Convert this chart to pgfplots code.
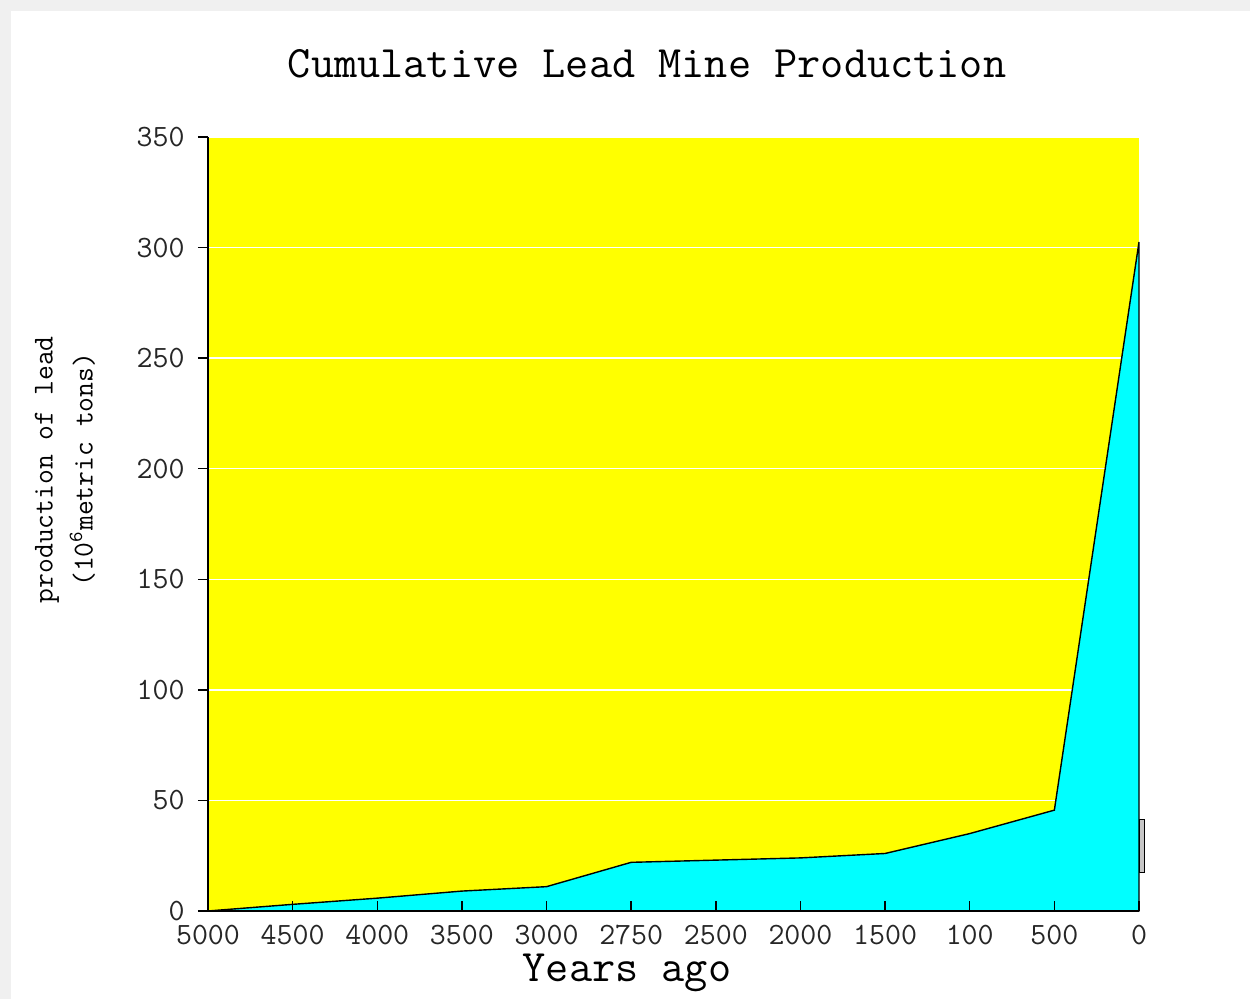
\documentclass[border=0pt]{standalone}
\usepackage{fontspec}
\usepackage{pgfplots}
\pgfplotsset{compat=1.18}
\definecolor{cy}{RGB}{0,255,255}
\definecolor{ye}{RGB}{255,255,0}
\pgfplotsset{
  layers/mylayers/.define layer set={
    axis background,axis grid,pre main,main,axis ticks,axis lines,axis tick labels,axis descriptions,axis foreground
  }{
    grid style={/pgfplots/on layer=axis grid},
    tick style={/pgfplots/on layer=axis ticks},
    axis line style={/pgfplots/on layer=axis lines},
    label style={/pgfplots/on layer=axis descriptions},
    legend style={/pgfplots/on layer=axis descriptions},
    title style={/pgfplots/on layer=axis descriptions},
    colorbar style={/pgfplots/on layer=axis descriptions},
    ticklabel style={/pgfplots/on layer=axis tick labels},
    axis background@ style={/pgfplots/on layer=axis background},
    3d box foreground style={/pgfplots/on layer=axis foreground},
  },
}
\begin{document}
\begin{tikzpicture}
\path (-104pt,-44pt) rectangle (521pt,455.5pt);
\fill[gray!12] (-104pt,450pt) rectangle (521pt,455.5pt);
\fill[gray!12] (-104pt,-44pt) rectangle (-98.5pt,455.5pt);
\begin{axis}[
  set layers=mylayers,
  at={(0pt,0pt)}, anchor=south west,
  scale only axis, width=465.5pt, height=387pt,
  xmin=0, xmax=11, ymin=0, ymax=350,
  clip=false,
  xtick={0,...,11},
  xticklabels={5000,4500,4000,3500,3000,2750,2500,2000,1500,100,500,0},
  ytick={0,50,...,350},
  axis lines=left, axis line style={-, black, line width=0.7pt},
  axis background/.style={fill=ye},
  ymajorgrids, grid style={white, line width=0.7pt},
  tick align=inside, major tick length=5pt,
  ytick style={xshift=-5pt, black, line width=0.7pt},
  xtick style={black, line width=0.7pt},
  /pgf/number format/assume math mode=true,
  ticklabel style={font=\ttfamily\fontsize{15.5}{15.5}\selectfont, inner sep=0pt, text=black!85},
  yticklabel style={anchor=east, xshift=-11.5pt},
  xticklabel style={anchor=north, yshift=-7pt},
  title={Cumulative Lead Mine Production},
  title style={at={(axis description cs:0.4716,1.0787)}, anchor=center, font=\ttfamily\fontsize{22.5}{26}\selectfont},
  xlabel={Years ago},
  xlabel style={at={(axis description cs:0.450,-0.0915)}, anchor=base, inner sep=0pt, font=\ttfamily\fontsize{22.5}{26}\selectfont},
  ylabel={production of lead\\(10\textsuperscript{6}metric tons)},
  ylabel style={at={(axis description cs:-0.1536,0.570)}, anchor=center, align=center, font=\ttfamily\fontsize{14.4}{20}\selectfont},
]
\addplot[fill=cy, draw=black, line width=0.7pt] coordinates {
 (0,0) (1,3) (2,5.8) (3,9) (4,11) (5,22) (6,23) (7,24) (8,26) (9,35) (10,45.6) (11,302.5)
} \closedcycle;
\draw[fill=gray!45, draw=black, line width=0.5pt] (rel axis cs:1,0.0494) rectangle (rel axis cs:1.0064,0.1183);
\end{axis}
\end{tikzpicture}
\end{document}
